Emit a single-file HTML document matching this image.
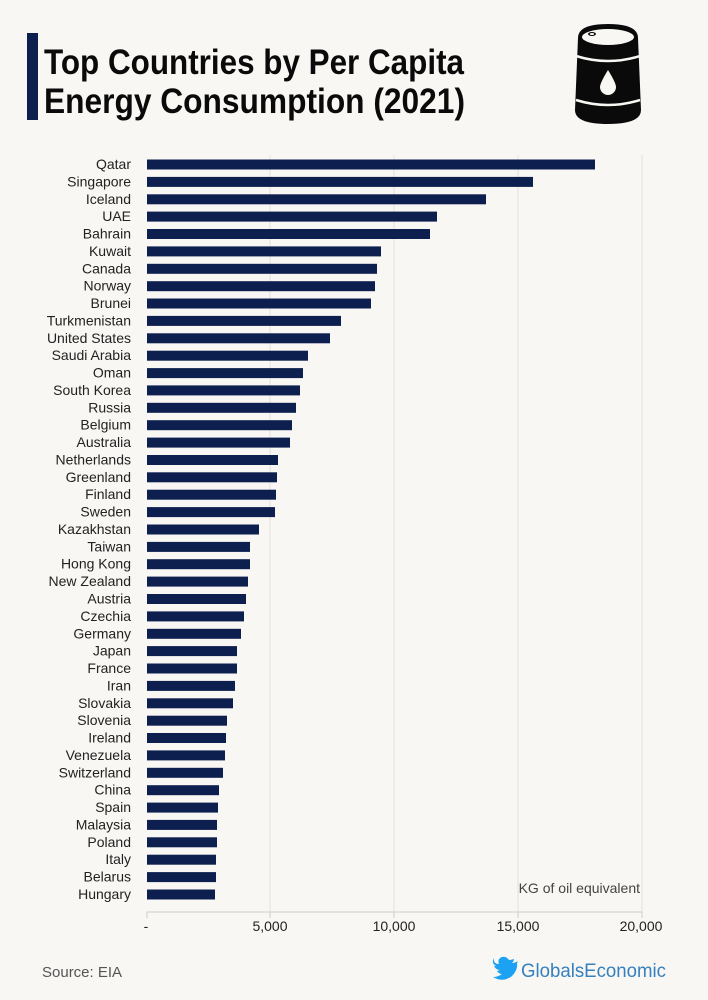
<!DOCTYPE html>
<html><head><meta charset="utf-8"><style>
html,body{margin:0;padding:0;background:#f9f7f4;}
svg{display:block;}
</style></head><body>
<svg width="708" height="1000" viewBox="0 0 708 1000" xmlns="http://www.w3.org/2000/svg">
<rect width="708" height="1000" fill="#f9f7f4"/>
<rect x="27" y="33" width="11" height="87" fill="#0d1f4f"/>
<g font-family="'Liberation Sans Narrow','Liberation Sans',sans-serif" font-weight="bold" fill="#0a0a0a" font-size="35">
<text x="44" y="74" textLength="420" lengthAdjust="spacingAndGlyphs">Top Countries by Per Capita</text>
<text x="44" y="113" textLength="421" lengthAdjust="spacingAndGlyphs">Energy Consumption (2021)</text>
</g>
<!-- barrel -->
<g>
<path d="M578 38 Q578 24 608 24 Q638 24 638 38 L641 110 Q641 124 608 124 Q575 124 575 110 Z" fill="#0a0a0a"/>
<ellipse cx="608" cy="37" rx="26" ry="8" fill="#f9f7f4"/>
<ellipse cx="592" cy="34" rx="4" ry="2" fill="#0a0a0a"/>
<ellipse cx="592" cy="34" rx="2.2" ry="1" fill="#f9f7f4"/>
<path d="M576 56 Q608 66 640 56" stroke="#f9f7f4" stroke-width="2.5" fill="none"/>
<path d="M576 100 Q608 110 640 100" stroke="#f9f7f4" stroke-width="2.5" fill="none"/>
<path d="M608 70 Q600 83 600 87 A8 8 0 0 0 616 87 Q616 83 608 70 Z" fill="#f9f7f4"/>
</g>
<!-- grid -->
<g stroke="#e2dfdb" stroke-width="1">
<line x1="270" y1="155" x2="270" y2="912"/>
<line x1="394" y1="155" x2="394" y2="912"/>
<line x1="518" y1="155" x2="518" y2="912"/>
<line x1="642" y1="155" x2="642" y2="912"/>
<line x1="147" y1="912" x2="642" y2="912" stroke="#cfccc8"/>
<line x1="147" y1="912" x2="147" y2="918" stroke="#cfccc8"/>
<line x1="270" y1="912" x2="270" y2="918" stroke="#cfccc8"/>
<line x1="394" y1="912" x2="394" y2="918" stroke="#cfccc8"/>
<line x1="518" y1="912" x2="518" y2="918" stroke="#cfccc8"/>
<line x1="642" y1="912" x2="642" y2="918" stroke="#cfccc8"/>
</g>
<g fill="#0d1f4f">
<rect x="147" y="159.5" width="448" height="10"/>
<rect x="147" y="176.9" width="386" height="10"/>
<rect x="147" y="194.3" width="339" height="10"/>
<rect x="147" y="211.6" width="290" height="10"/>
<rect x="147" y="229.0" width="283" height="10"/>
<rect x="147" y="246.4" width="234" height="10"/>
<rect x="147" y="263.8" width="230" height="10"/>
<rect x="147" y="281.2" width="228" height="10"/>
<rect x="147" y="298.5" width="224" height="10"/>
<rect x="147" y="315.9" width="194" height="10"/>
<rect x="147" y="333.3" width="183" height="10"/>
<rect x="147" y="350.7" width="161" height="10"/>
<rect x="147" y="368.1" width="156" height="10"/>
<rect x="147" y="385.4" width="153" height="10"/>
<rect x="147" y="402.8" width="149" height="10"/>
<rect x="147" y="420.2" width="145" height="10"/>
<rect x="147" y="437.6" width="143" height="10"/>
<rect x="147" y="455.0" width="131" height="10"/>
<rect x="147" y="472.3" width="130" height="10"/>
<rect x="147" y="489.7" width="129" height="10"/>
<rect x="147" y="507.1" width="128" height="10"/>
<rect x="147" y="524.5" width="112" height="10"/>
<rect x="147" y="541.9" width="103" height="10"/>
<rect x="147" y="559.2" width="103" height="10"/>
<rect x="147" y="576.6" width="101" height="10"/>
<rect x="147" y="594.0" width="99" height="10"/>
<rect x="147" y="611.4" width="97" height="10"/>
<rect x="147" y="628.8" width="94" height="10"/>
<rect x="147" y="646.1" width="90" height="10"/>
<rect x="147" y="663.5" width="90" height="10"/>
<rect x="147" y="680.9" width="88" height="10"/>
<rect x="147" y="698.3" width="86" height="10"/>
<rect x="147" y="715.7" width="80" height="10"/>
<rect x="147" y="733.0" width="79" height="10"/>
<rect x="147" y="750.4" width="78" height="10"/>
<rect x="147" y="767.8" width="76" height="10"/>
<rect x="147" y="785.2" width="72" height="10"/>
<rect x="147" y="802.6" width="71" height="10"/>
<rect x="147" y="819.9" width="70" height="10"/>
<rect x="147" y="837.3" width="70" height="10"/>
<rect x="147" y="854.7" width="69" height="10"/>
<rect x="147" y="872.1" width="69" height="10"/>
<rect x="147" y="889.5" width="68" height="10"/>
</g>
<g font-family="'Liberation Sans Narrow','Liberation Sans',sans-serif" font-size="14" fill="#222" text-anchor="end">
<text x="131" y="169">Qatar</text>
<text x="131" y="186.4">Singapore</text>
<text x="131" y="203.8">Iceland</text>
<text x="131" y="221.1">UAE</text>
<text x="131" y="238.5">Bahrain</text>
<text x="131" y="255.9">Kuwait</text>
<text x="131" y="273.3">Canada</text>
<text x="131" y="290.7">Norway</text>
<text x="131" y="308">Brunei</text>
<text x="131" y="325.4">Turkmenistan</text>
<text x="131" y="342.8">United States</text>
<text x="131" y="360.2">Saudi Arabia</text>
<text x="131" y="377.6">Oman</text>
<text x="131" y="394.9">South Korea</text>
<text x="131" y="412.3">Russia</text>
<text x="131" y="429.7">Belgium</text>
<text x="131" y="447.1">Australia</text>
<text x="131" y="464.5">Netherlands</text>
<text x="131" y="481.8">Greenland</text>
<text x="131" y="499.2">Finland</text>
<text x="131" y="516.6">Sweden</text>
<text x="131" y="534">Kazakhstan</text>
<text x="131" y="551.4">Taiwan</text>
<text x="131" y="568.7">Hong Kong</text>
<text x="131" y="586.1">New Zealand</text>
<text x="131" y="603.5">Austria</text>
<text x="131" y="620.9">Czechia</text>
<text x="131" y="638.3">Germany</text>
<text x="131" y="655.6">Japan</text>
<text x="131" y="673">France</text>
<text x="131" y="690.4">Iran</text>
<text x="131" y="707.8">Slovakia</text>
<text x="131" y="725.2">Slovenia</text>
<text x="131" y="742.5">Ireland</text>
<text x="131" y="759.9">Venezuela</text>
<text x="131" y="777.3">Switzerland</text>
<text x="131" y="794.7">China</text>
<text x="131" y="812.1">Spain</text>
<text x="131" y="829.4">Malaysia</text>
<text x="131" y="846.8">Poland</text>
<text x="131" y="864.2">Italy</text>
<text x="131" y="881.6">Belarus</text>
<text x="131" y="899">Hungary</text>
</g>
<g font-family="'Liberation Sans Narrow','Liberation Sans',sans-serif" font-size="14" fill="#222" text-anchor="middle">
<text x="146" y="931">-</text>
<text x="270" y="931">5,000</text>
<text x="394" y="931">10,000</text>
<text x="518" y="931">15,000</text>
<text x="641" y="931">20,000</text>
<text x="640" y="893" text-anchor="end" fill="#444">KG of oil equivalent</text>
<text x="42" y="977" text-anchor="start" fill="#555" font-size="15">Source: EIA</text>
<text x="521" y="977" text-anchor="start" fill="#3580bd" font-size="19" textLength="145" lengthAdjust="spacingAndGlyphs">GlobalsEconomic</text>
</g>
<path d="M518 961 Q515 963 512 963 Q514 961 514 959 Q511 960 509 960 Q506 956 502 957 Q497 959 499 964 Q493 964 494 958 Q491 963 496 966 L494 966 Q496 970 500 970 L497 971 Q499 974 502 974 Q498 977 493 977 Q503 983 512 976 Q518 970 517 963 Z" fill="#1da1f2"/>
</svg>
</body></html>
